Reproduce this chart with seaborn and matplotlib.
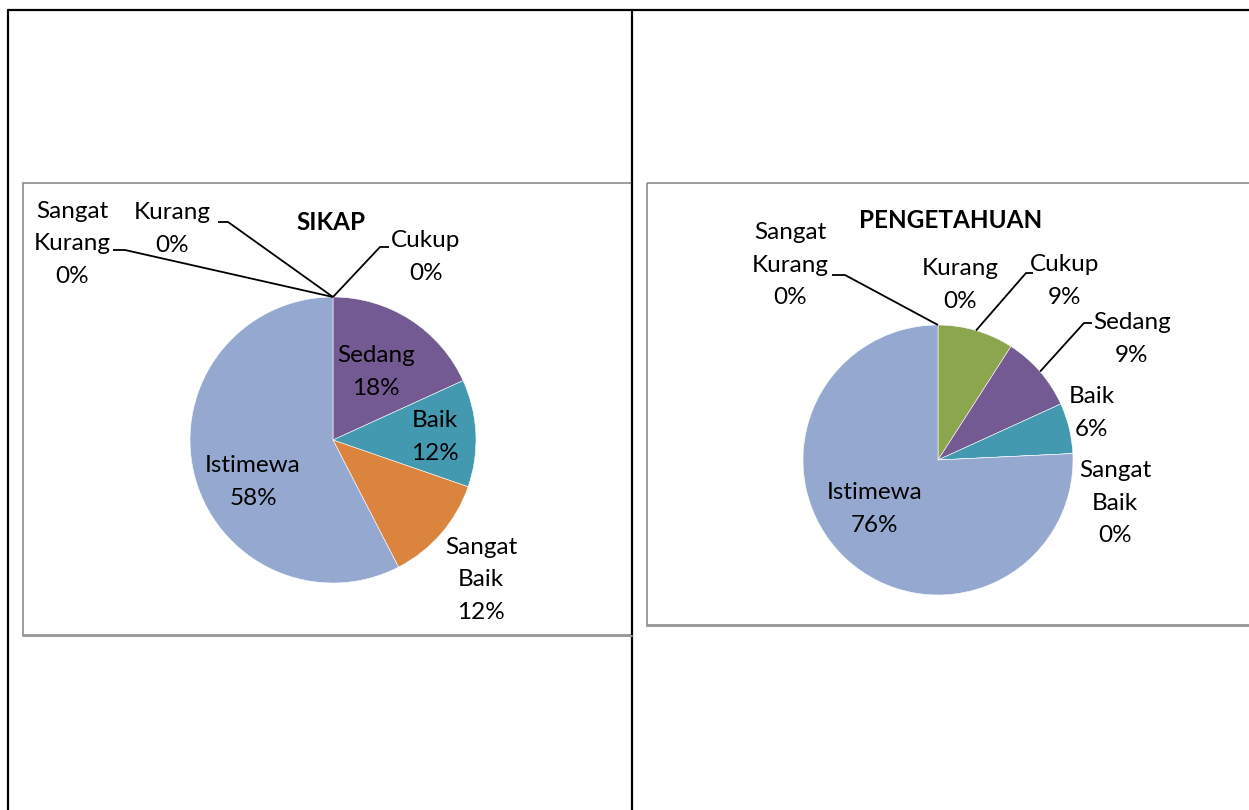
import matplotlib
matplotlib.use('Agg')
import matplotlib.pyplot as plt
import seaborn as sns
import numpy as np
from matplotlib.patches import Rectangle

# Data (counts, read from rounded percentages)
categories = ['Sangat Kurang', 'Kurang', 'Cukup', 'Sedang', 'Baik', 'Sangat Baik', 'Istimewa']
label_text = ['Sangat\nKurang', 'Kurang', 'Cukup', 'Sedang', 'Baik', 'Sangat\nBaik', 'Istimewa']
sikap = [0, 0, 0, 6, 4, 4, 19]
pengetahuan = [0, 0, 3, 3, 2, 0, 25]

colors = sns.color_palette(['#4F81BD', '#C0504D', '#8BA64F', '#745A92',
                            '#4399AF', '#DB843D', '#95A9D0'])

sns.set_theme(style='white')
plt.rcParams['font.family'] = ['Lato', 'DejaVu Sans']

W, H = 1249, 810
fig = plt.figure(figsize=(W / 100, H / 100), dpi=100)
ax = fig.add_axes([0, 0, 1, 1])

# ---- table frame and chart boxes (pixel coords, y downward) ----
ax.plot([8, 8], [10, H], color='black', lw=1.6)
ax.plot([8, W], [10, 10], color='black', lw=1.6)
ax.plot([632, 632], [10, H], color='black', lw=1.6)
ax.add_patch(Rectangle((23, 183), 609, 452, fill=False, ec='#8c8c8c', lw=1.2))
ax.plot([23, 632], [636, 636], color='#9a9a9a', lw=1.4)
ax.add_patch(Rectangle((647, 183), 620, 442, fill=False, ec='#8c8c8c', lw=1.2))
ax.plot([647, W], [626, 626], color='#9a9a9a', lw=1.4)

FS = 17.5


def draw_pie(values, center, radius, title, title_pos, labels):
    total = sum(values)
    ax.pie(values, colors=colors, center=center, radius=radius,
           startangle=-90, counterclock=True, frame=True,
           wedgeprops=dict(edgecolor='white', linewidth=0.4))
    ax.text(*title_pos, title, ha='center', va='center', fontsize=FS,
            fontweight='bold', color='black')
    cum = np.cumsum([0] + list(values)) / total
    for i, (name, v) in enumerate(zip(label_text, values)):
        spec = labels.get(categories[i])
        if spec is None:
            continue
        pct = f'{round(100 * v / total):.0f}%'
        (tx, ty), leader = spec
        ax.text(tx, ty, f'{name}\n{pct}', ha='center', va='center',
                fontsize=FS, linespacing=1.65, color='black')
        if leader is not None:
            mid = (cum[i] + cum[i + 1]) / 2
            theta = np.deg2rad(-90 + 360 * mid)
            ex = center[0] + radius * np.cos(theta)
            ey = center[1] + radius * np.sin(theta)
            (x0, x1, yl) = leader
            ax.plot([x0, x1, ex], [yl, yl, ey], color='black', lw=1.3,
                    solid_capstyle='butt')


draw_pie(sikap, (333, 440), 143, 'SIKAP', (331, 222), {
    'Sangat Kurang': ((72, 244), (113, 125, 250)),
    'Kurang': ((172, 229), (218, 228, 222)),
    'Cukup': ((426, 257), (389, 380, 247)),
    'Sedang': ((376, 372), None),
    'Baik': ((435, 437), None),
    'Sangat Baik': ((481, 580), None),
    'Istimewa': ((253, 482), None),
})

draw_pie(pengetahuan, (938, 460), 135, 'PENGETAHUAN', (951, 221), {
    'Sangat Kurang': ((790, 265), (832, 845, 275)),
    'Kurang': ((960, 285), None),
    'Cukup': ((1065, 281), (1033, 1026, 273)),
    'Sedang': ((1132, 339), (1092, 1084, 323)),
    'Baik': ((1092, 413), None),
    'Sangat Baik': ((1115, 503), None),
    'Istimewa': ((875, 509), None),
})

ax.set_xlim(0, W)
ax.set_ylim(H, 0)
ax.set_aspect('auto')
ax.axis('off')

fig.savefig('out.png', dpi=100, facecolor='white')
